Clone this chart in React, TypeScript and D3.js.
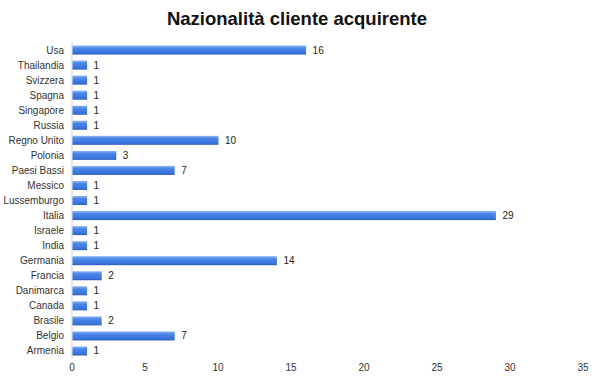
import React from "react";
import * as d3 from "d3";

const categories = ["Usa","Thailandia","Svizzera","Spagna","Singapore","Russia","Regno Unito","Polonia","Paesi Bassi","Messico","Lussemburgo","Italia","Israele","India","Germania","Francia","Danimarca","Canada","Brasile","Belgio","Armenia"];
const values = [16,1,1,1,1,1,10,3,7,1,1,29,1,1,14,2,1,1,2,7,1];
const xTicks = [0,5,10,15,20,25,30,35];
const title = "Nazionalità cliente acquirente";

export default function App() {
  const W = 600, H = 383;
  const x = d3.scaleLinear().domain([0, 35]).range([72, 583]);
  const y = d3.scaleBand<string>().domain(categories).range([42.5, 358.5]).paddingInner(0.4).paddingOuter(0.2);
  const font = "Liberation Sans, Arial, sans-serif";
  return (
    <svg width={W} height={H} style={{ position: "absolute", left: 0, top: 0, background: "#fff" }}>
      <defs>
        <linearGradient id="bg" x1="0" y1="0" x2="0" y2="1">
          <stop offset="0" stopColor="#8fb6f5" />
          <stop offset="0.3" stopColor="#4a86e8" />
          <stop offset="0.8" stopColor="#3a74dc" />
          <stop offset="1" stopColor="#2a5cba" />
        </linearGradient>
      </defs>
      <rect width={W} height={H} fill="#fff" />
      <text x={297} y={25} textAnchor="middle" fontFamily={font} fontWeight="bold" fontSize={18.5} fill="#111">{title}</text>
      <line x1={x(0)} x2={x(0)} y1={42} y2={359} stroke="#d0d0d0" strokeWidth={1} />
      {categories.map((c, i) => {
        const yy = y(c)!;
        const bw = y.bandwidth();
        return (
          <g key={c}>
            <rect x={x(0) + 0.5} y={yy} width={x(values[i]) - x(0)} height={bw} fill="url(#bg)" />
            <text x={64} y={yy + bw / 2} dy="0.35em" textAnchor="end" fontFamily={font} fontSize={10} fill="#333">{c}</text>
            <text x={x(values[i]) + 7} y={yy + bw / 2} dy="0.35em" fontFamily={font} fontSize={10} fill="#222">{values[i]}</text>
          </g>
        );
      })}
      {xTicks.map((t) => (
        <text key={t} x={x(t)} y={371} textAnchor="middle" fontFamily={font} fontSize={10} fill="#333">{t}</text>
      ))}
    </svg>
  );
}
